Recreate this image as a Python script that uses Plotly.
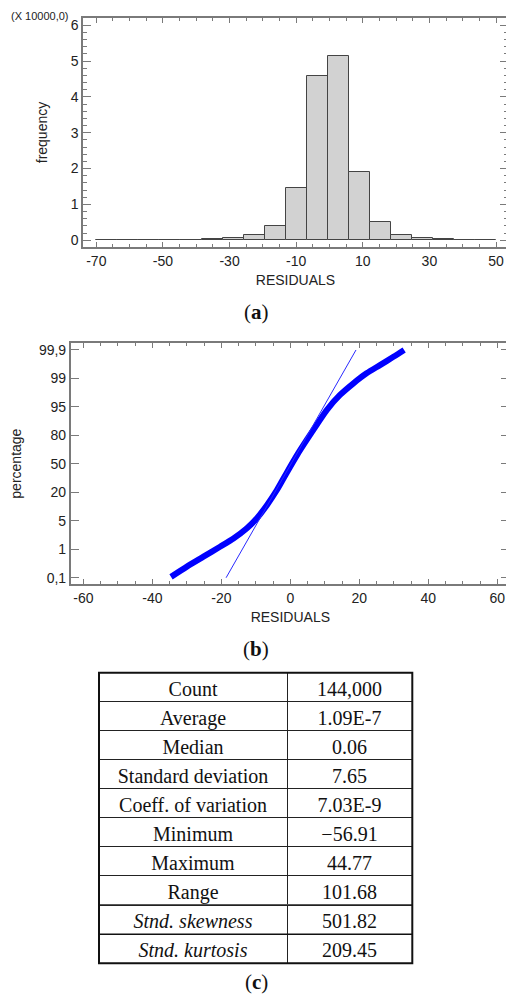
import numpy as np
import plotly.graph_objects as go

# ---------------- data ----------------
# (a) histogram of residuals (frequency in units of 10000)
bin_start = -70.0
bin_end = 50.0
hist_freq = [0.002, 0.002, 0.003, 0.004, 0.005, 0.03, 0.05, 0.14, 0.39, 1.47,
             4.59, 5.13, 1.90, 0.50, 0.14, 0.05, 0.03, 0.004, 0.002]
hist_xticks = [-70, -50, -30, -10, 10, 30, 50]
hist_yticks = [0, 1, 2, 3, 4, 5, 6]

# (b) normal probability plot: residual vs. probability-scale level
prob_labels = ["0,1", "1", "5", "20", "50", "80", "95", "99", "99,9"]
prob_xticks = [-60, -40, -20, 0, 20, 40, 60]
curve_resid = [-34.6, -30.0, -25.2, -20.4, -16.5, -12.6, -9.7, -6.8, -3.9, -1.0,
               1.9, 4.75, 7.65, 10.55, 14.4, 18.3, 22.1, 26.0, 29.9, 33.0]
curve_level = [0.03, 0.39, 0.74, 1.09, 1.38, 1.74, 2.09, 2.55, 3.08, 3.70,
               4.30, 4.84, 5.37, 5.89, 6.42, 6.83, 7.18, 7.47, 7.76, 8.0]
fit_resid = [-18.64, 19.04]
fit_level = [0.0, 8.0]

# (c) summary statistics
stat_names = ["Count", "Average", "Median", "Standard deviation", "Coeff. of variation",
              "Minimum", "Maximum", "Range"]
stat_values = ["144,000", "1.09E-7", "0.06", "7.65", "7.03E-9",
               "\u221256.91", "44.77", "101.68"]
shape_names = ["Stnd. skewness", "Stnd. kurtosis"]
shape_values = ["501.82", "209.45"]

# ---------------- figure ----------------
OFF = 8  # page body margin of the html page
W, H = 514 - OFF, 1000 - OFF
def px(x):
    return (x - OFF) / W
def py(y):
    return 1 - (y - OFF) / H

n_bins = len(hist_freq)
edges = np.linspace(bin_start, bin_end, n_bins + 1)
centers = (edges[:-1] + edges[1:]) / 2
widths = np.diff(edges)

fig = go.Figure()

fig.add_trace(go.Bar(
    x=centers, y=hist_freq, width=widths,
    marker=dict(color="#d2d2d2", line=dict(color="#444444", width=1)),
    xaxis="x", yaxis="y", showlegend=False,
))

fig.add_trace(go.Scatter(
    x=curve_resid, y=curve_level, mode="lines",
    line=dict(color="#0000ff", width=6, shape="spline", smoothing=0.8),
    xaxis="x2", yaxis="y2", showlegend=False,
))
fig.add_trace(go.Scatter(
    x=fit_resid, y=fit_level, mode="lines",
    line=dict(color="#2a2aff", width=1),
    xaxis="x2", yaxis="y2", showlegend=False,
))

ROW = 29.06
T_TOP, T_BOT = 672.7, 963.3
T_MID = T_TOP + ROW * len(stat_names)
T_L, T_R = 99, 412.3
tfont = dict(family="Liberation Serif", size=20, color="#111")

fig.add_trace(go.Table(
    domain=dict(x=[px(T_L), px(T_R)], y=[py(T_MID), py(T_TOP)]),
    columnwidth=[188, 125],
    header=dict(values=[stat_names[0], stat_values[0]],
                align="center", height=29, fill=dict(color="white"),
                line=dict(color="#222", width=1), font=tfont),
    cells=dict(values=[stat_names[1:], stat_values[1:]],
               align="center", height=29, fill=dict(color="white"),
               line=dict(color="#222", width=1), font=tfont),
))
fig.add_trace(go.Table(
    domain=dict(x=[px(T_L), px(T_R)], y=[py(T_BOT), py(T_MID)]),
    columnwidth=[188, 125],
    header=dict(values=[shape_names[0], shape_values[0]],
                align="center", height=29, fill=dict(color="white"),
                line=dict(color="#222", width=1),
                font=dict(tfont, style=["italic", "normal"])),
    cells=dict(values=[shape_names[1:], shape_values[1:]],
               align="center", height=29, fill=dict(color="white"),
               line=dict(color="#222", width=1),
               font=dict(tfont, style=["italic", "normal"])),
))

frame = "#7a7a7a"
tickfont = dict(family="Liberation Sans", size=14, color="#222")
titlefont = dict(family="Liberation Sans", size=14, color="#222")

fig.update_layout(
    width=W, height=H,
    margin=dict(l=0, r=0, t=0, b=0),
    paper_bgcolor="white", plot_bgcolor="white",
    template="none",
    bargap=0,
    xaxis=dict(domain=[px(83), px(508)], anchor="y", range=[-74, 53.6],
               tickvals=hist_xticks, ticktext=[str(v) for v in hist_xticks],
               ticks="inside", ticklen=5, tickwidth=1, tickcolor=frame,
               minor=dict(dtick=5, tick0=-70, ticks="inside", ticklen=3, tickcolor=frame),
               showline=True, linecolor=frame, linewidth=1.5, mirror="ticks",
               showgrid=False, zeroline=False, automargin=False,
               tickfont=tickfont,
               title=dict(text="RESIDUALS", font=titlefont, standoff=8)),
    yaxis=dict(domain=[py(247), py(18)], anchor="x", range=[-0.19, 6.2],
               tickvals=hist_yticks, ticktext=[str(v) for v in hist_yticks],
               ticks="inside", ticklen=8, tickwidth=1, tickcolor=frame,
               minor=dict(dtick=0.2, tick0=0, ticks="inside", ticklen=4, tickcolor=frame),
               showline=True, linecolor=frame, linewidth=1.5, mirror="ticks",
               showgrid=False, zeroline=False, automargin=False,
               tickfont=tickfont,
               title=dict(text="frequency", font=titlefont, standoff=20)),
    xaxis2=dict(domain=[px(70.7), px(510)], anchor="y2", range=[-63.7, 63.7],
                tickvals=prob_xticks, ticktext=[str(v) for v in prob_xticks],
                ticks="inside", ticklen=5, tickwidth=1, tickcolor=frame,
                minor=dict(dtick=5, tick0=0, ticks="inside", ticklen=3, tickcolor=frame),
                showline=True, linecolor=frame, linewidth=1.5, mirror="ticks",
                showgrid=False, zeroline=False, automargin=False,
                tickfont=tickfont,
                title=dict(text="RESIDUALS", font=titlefont, standoff=8)),
    yaxis2=dict(domain=[py(584), py(343.3)], anchor="x2", range=[-0.22, 8.235],
                tickvals=list(range(len(prob_labels))), ticktext=prob_labels,
                ticks="inside", ticklen=9, tickwidth=1, tickcolor=frame,
                showline=True, linecolor=frame, linewidth=1.5, mirror="ticks",
                showgrid=False, zeroline=False, automargin=False,
                tickfont=tickfont,
                title=dict(text="percentage", font=titlefont, standoff=22)),
    annotations=[
        dict(text="(X 10000,0)", x=px(8.5), y=py(8.5), xref="paper", yref="paper",
             xanchor="left", yanchor="top", showarrow=False,
             font=dict(family="Liberation Sans", size=11, color="#222")),
        dict(text="(<b>a</b>)", x=px(256), y=py(312), xref="paper", yref="paper",
             xanchor="center", yanchor="middle", showarrow=False,
             font=dict(family="Liberation Serif", size=21, color="#111")),
        dict(text="(<b>b</b>)", x=px(256), y=py(649), xref="paper", yref="paper",
             xanchor="center", yanchor="middle", showarrow=False,
             font=dict(family="Liberation Serif", size=21, color="#111")),
        dict(text="(<b>c</b>)", x=px(256), y=py(982), xref="paper", yref="paper",
             xanchor="center", yanchor="middle", showarrow=False,
             font=dict(family="Liberation Serif", size=21, color="#111")),
    ],
    shapes=[
        dict(type="rect", xref="paper", yref="paper",
             x0=px(T_L), x1=px(T_R), y0=py(T_BOT), y1=py(T_TOP),
             line=dict(color="#111", width=2), fillcolor="rgba(0,0,0,0)"),
        dict(type="line", xref="paper", yref="paper",
             x0=px(T_L), x1=px(T_R), y0=py(T_MID + ROW), y1=py(T_MID + ROW),
             line=dict(color="#111", width=1.6)),
    ],
)

fig.write_html("out.html")
